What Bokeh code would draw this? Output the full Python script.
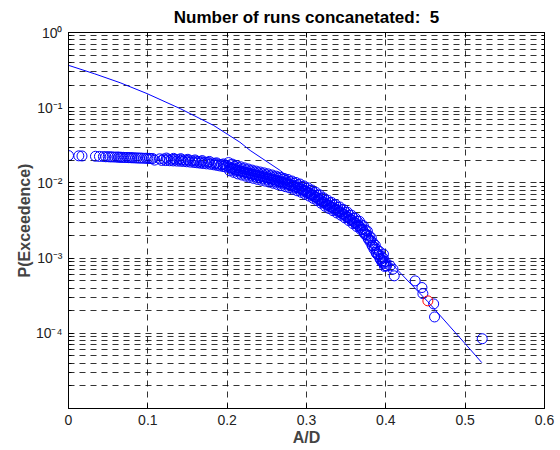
from bokeh.plotting import figure
from bokeh.models import FixedTicker, LinearAxis, LogAxis, Title
from bokeh.embed import file_html
from bokeh.resources import INLINE

# ---- data ----
title_text = "Number of runs concanetated:\u00a0 5"
x_label = "A/D"
y_label = "P(Exceedence)"

# empirical exceedance points (blue circles), read in segments
head_x = [
    0.000, 0.013, 0.017, 0.034, 0.039, 0.044, 0.050, 0.055, 0.061, 0.065,
    0.069, 0.074, 0.078, 0.082, 0.087, 0.092, 0.098, 0.102, 0.106, 0.115,
    0.120, 0.125, 0.130, 0.134, 0.139, 0.143, 0.147, 0.151, 0.156, 0.160,
    0.164, 0.168, 0.172, 0.176, 0.181, 0.185, 0.189, 0.193, 0.197, 0.200,
]
head_p = [
    0.0231, 0.0229, 0.0228, 0.0226, 0.0225, 0.0224, 0.0223, 0.0222, 0.0221, 0.0220,
    0.0219, 0.0218, 0.0217, 0.0216, 0.0215, 0.0214, 0.0213, 0.0212, 0.0211, 0.0209,
    0.0208, 0.0207, 0.0206, 0.0205, 0.0204, 0.0203, 0.0201, 0.0199, 0.0197, 0.0195,
    0.0193, 0.0191, 0.0189, 0.0187, 0.0184, 0.0181, 0.0178, 0.0175, 0.0172, 0.0169,
]
head2_x = [
    0.047, 0.0525, 0.058, 0.063, 0.067, 0.0715, 0.076, 0.080, 0.0845, 0.0895,
    0.095, 0.100, 0.104, 0.1085, 0.1175, 0.1225, 0.1275, 0.132, 0.1365, 0.141,
    0.145, 0.149, 0.1535, 0.158, 0.162, 0.166, 0.170, 0.174, 0.1785, 0.183,
    0.187, 0.191, 0.195, 0.1985,
]
head2_p = [
    0.02225, 0.02215, 0.02205, 0.02195, 0.02185, 0.02175, 0.02165, 0.02155, 0.02145, 0.02135,
    0.02125, 0.02115, 0.02105, 0.0201, 0.0199, 0.0198, 0.0197, 0.0196, 0.0195, 0.0194,
    0.0193, 0.0191, 0.0189, 0.0187, 0.0185, 0.0183, 0.0181, 0.0179, 0.0177, 0.0174,
    0.0171, 0.0168, 0.0165, 0.0162,
]
head3_x = [0.1235, 0.1325, 0.1415, 0.1505, 0.1595, 0.1685, 0.1775, 0.1865, 0.1955]
head3_p = [0.0214, 0.0212, 0.0210, 0.0206, 0.0202, 0.0198, 0.0193, 0.0185, 0.0179]

band_x = [
    0.205, 0.210, 0.215, 0.220, 0.225, 0.230, 0.235, 0.240, 0.245, 0.250,
    0.255, 0.260, 0.265, 0.270, 0.275, 0.280, 0.285, 0.290, 0.295, 0.300,
    0.305, 0.310, 0.315, 0.320, 0.325, 0.330, 0.335, 0.340, 0.345, 0.350,
    0.355, 0.360, 0.365, 0.370, 0.375, 0.380, 0.385, 0.390, 0.395, 0.400,
]
band_p = [
    0.01585, 0.0151, 0.0146, 0.0141, 0.01365, 0.0132, 0.0128, 0.01245, 0.0121, 0.01175,
    0.01135, 0.01096, 0.01059, 0.01023, 0.00989, 0.00944, 0.00902, 0.00861, 0.00813, 0.00767,
    0.00716, 0.00668, 0.00617, 0.00562, 0.00525, 0.0049, 0.00457, 0.00427, 0.00394, 0.00363,
    0.00331, 0.00302, 0.00275, 0.0024, 0.00204, 0.00166, 0.00132, 0.0011, 0.00089, 0.00079,
]
band2_x = [
    0.2025, 0.2075, 0.2125, 0.2175, 0.2225, 0.2275, 0.2325, 0.2375, 0.2425, 0.2475,
    0.2525, 0.2575, 0.2625, 0.2675, 0.2725, 0.2775, 0.2825, 0.2875, 0.2925, 0.2975,
    0.3025, 0.3075, 0.3125, 0.3175, 0.3225, 0.3275, 0.3325, 0.3375, 0.3425, 0.3475,
    0.3525, 0.3575, 0.3625, 0.3675, 0.3725, 0.3775, 0.3825, 0.3875, 0.3925, 0.3975,
]
band2_p = [
    0.01622, 0.01549, 0.01488, 0.01437, 0.01388, 0.01341, 0.01298, 0.01262, 0.01227, 0.01192,
    0.01155, 0.01115, 0.01078, 0.01041, 0.01006, 0.00966, 0.00923, 0.00881, 0.00837, 0.0079,
    0.00741, 0.00692, 0.00642, 0.00589, 0.00543, 0.00507, 0.00473, 0.00442, 0.0041, 0.00378,
    0.00347, 0.00316, 0.00288, 0.00257, 0.00221, 0.00184, 0.00148, 0.0012, 0.00099, 0.000841,
]
band_hi_x = [
    0.2017, 0.2067, 0.2117, 0.2167, 0.2217, 0.2267, 0.2317, 0.2367, 0.2417, 0.2467,
    0.2517, 0.2567, 0.2617, 0.2667, 0.2717, 0.2767, 0.2817, 0.2867, 0.2917, 0.2967,
    0.3017, 0.3067, 0.3117, 0.3167, 0.3217, 0.3267, 0.3317, 0.3367, 0.3417, 0.3467,
    0.3517, 0.3567, 0.3617, 0.3667, 0.3717, 0.3767, 0.3817, 0.3867, 0.3917, 0.3967,
]
band_hi_p = [
    0.01862, 0.01778, 0.01698, 0.01641, 0.01585, 0.01531, 0.01479, 0.01435, 0.01396, 0.01358,
    0.01318, 0.01274, 0.0123, 0.01189, 0.01148, 0.01109, 0.01059, 0.01012, 0.00966, 0.00912,
    0.00861, 0.00804, 0.0075, 0.00692, 0.00631, 0.00589, 0.0055, 0.00513, 0.00479, 0.00442,
    0.00407, 0.00372, 0.00339, 0.00309, 0.00269, 0.00229, 0.00186, 0.00148, 0.00123, 0.001,
]
band_hi2_x = [
    0.2042, 0.2092, 0.2142, 0.2192, 0.2242, 0.2292, 0.2342, 0.2392, 0.2442, 0.2492,
    0.2542, 0.2592, 0.2642, 0.2692, 0.2742, 0.2792, 0.2842, 0.2892, 0.2942, 0.2992,
    0.3042, 0.3092, 0.3142, 0.3192, 0.3242, 0.3292, 0.3342, 0.3392, 0.3442, 0.3492,
    0.3542, 0.3592, 0.3642, 0.3692, 0.3742, 0.3792, 0.3842, 0.3892, 0.3942, 0.3992,
]
band_hi2_p = [
    0.01739, 0.0166, 0.01595, 0.0154, 0.01488, 0.01438, 0.01391, 0.01353, 0.01315, 0.01278,
    0.01238, 0.01195, 0.01156, 0.01116, 0.01078, 0.01036, 0.00989, 0.00944, 0.00897, 0.00847,
    0.00794, 0.00742, 0.00688, 0.00631, 0.00582, 0.00544, 0.00507, 0.00474, 0.0044, 0.00405,
    0.00372, 0.00339, 0.00309, 0.00276, 0.00237, 0.00197, 0.00159, 0.00129, 0.00106, 0.000902,
]
band_lo_x = [
    0.2033, 0.2083, 0.2133, 0.2183, 0.2233, 0.2283, 0.2333, 0.2383, 0.2433, 0.2483,
    0.2533, 0.2583, 0.2633, 0.2683, 0.2733, 0.2783, 0.2833, 0.2883, 0.2933, 0.2983,
    0.3033, 0.3083, 0.3133, 0.3183, 0.3233, 0.3283, 0.3333, 0.3383, 0.3433, 0.3483,
    0.3533, 0.3583, 0.3633, 0.3683, 0.3733, 0.3783, 0.3833, 0.3883, 0.3933, 0.3983,
]
band_lo_p = [
    0.01445, 0.0138, 0.01318, 0.01274, 0.0123, 0.01189, 0.01148, 0.01114, 0.01084, 0.01054,
    0.01023, 0.00989, 0.00955, 0.00923, 0.00891, 0.00861, 0.00822, 0.00785, 0.0075, 0.00708,
    0.00668, 0.00624, 0.00582, 0.00537, 0.0049, 0.00457, 0.00427, 0.00398, 0.00372, 0.00343,
    0.00316, 0.00288, 0.00263, 0.0024, 0.00209, 0.00178, 0.00145, 0.00115, 0.000955, 0.000776,
]
band_lo2_x = [
    0.2058, 0.2108, 0.2158, 0.2208, 0.2258, 0.2308, 0.2358, 0.2408, 0.2458, 0.2508,
    0.2558, 0.2608, 0.2658, 0.2708, 0.2758, 0.2808, 0.2858, 0.2908, 0.2958, 0.3008,
    0.3058, 0.3108, 0.3158, 0.3208, 0.3258, 0.3308, 0.3358, 0.3408, 0.3458, 0.3508,
    0.3558, 0.3608, 0.3658, 0.3708, 0.3758, 0.3808, 0.3858, 0.3908, 0.3958, 0.4008,
]
band_lo2_p = [
    0.01513, 0.01445, 0.01388, 0.01341, 0.01295, 0.01251, 0.01211, 0.01177, 0.01145, 0.01112,
    0.01078, 0.0104, 0.01006, 0.00971, 0.00939, 0.00901, 0.00861, 0.00822, 0.00781, 0.00737,
    0.00691, 0.00646, 0.00599, 0.0055, 0.00507, 0.00473, 0.00441, 0.00412, 0.00383, 0.00353,
    0.00324, 0.00295, 0.00269, 0.0024, 0.00206, 0.00172, 0.00138, 0.00112, 0.000924, 0.000785,
]
tail_x = [0.397, 0.397, 0.4055, 0.409, 0.4106, 0.437, 0.4455, 0.4467, 0.4603, 0.4614, 0.5215]
tail_p = [0.00113, 0.000873, 0.000789, 0.000713, 0.000581, 0.000498, 0.000406, 0.000337,
          0.000246, 0.000165, 0.0000847]

# highlighted point (red circle)
red_x = [0.453]
red_p = [0.00027]

# fitted curve (blue line)
fit_x = [0.0, 0.033, 0.065, 0.099, 0.141, 0.183, 0.216, 0.229, 0.267, 0.286,
         0.315, 0.342, 0.370, 0.414, 0.453, 0.506, 0.521]
fit_p = [0.366, 0.282, 0.215, 0.154, 0.097, 0.058, 0.0348, 0.027, 0.0146, 0.0100,
         0.0063, 0.00407, 0.0024, 0.000708, 0.000263, 0.0000617, 0.0000407]

# axis ticks
x_ticks = [0, 0.1, 0.2, 0.3, 0.4, 0.5, 0.6]
x_tick_labels = ["0", "0.1", "0.2", "0.3", "0.4", "0.5", "0.6"]
y_ticks = [1e-4, 1e-3, 1e-2, 1e-1, 1e0]
y_tick_labels = ["10\u207b\u2074", "10\u207b\u00b3", "10\u207b\u00b2", "10\u207b\u00b9", "10\u2070"]
y_minor = [m * 10.0 ** e for e in range(-5, 0) for m in range(2, 10)]

FONT = "Liberation Sans"
BLUE = "#0000ff"
DASH = "6 5"

p = figure(frame_width=476, frame_height=376, x_range=(0, 0.6), y_range=(1e-5, 1),
           y_axis_type="log", output_backend="svg", toolbar_location=None,
           min_border_left=68, min_border_right=16, min_border_top=32, min_border_bottom=42,
           background_fill_color="white", border_fill_color="white")

p.outline_line_color = "black"
p.outline_line_width = 1

xt = FixedTicker(ticks=x_ticks, minor_ticks=[])
yt = FixedTicker(ticks=y_ticks, minor_ticks=y_minor)

# grids
p.xgrid.ticker = xt
p.ygrid.ticker = yt
for g in (p.xgrid, p.ygrid):
    g.grid_line_color = "black"
    g.grid_line_dash = DASH
    g.grid_line_alpha = 0.8
    g.grid_line_width = 1
p.ygrid.minor_grid_line_color = "black"
p.ygrid.minor_grid_line_dash = DASH
p.ygrid.minor_grid_line_alpha = 0.8


def style_axis(ax, labels=True):
    ax.axis_line_color = "black"
    ax.major_tick_in = 5
    ax.major_tick_out = 0
    ax.minor_tick_in = 3
    ax.minor_tick_out = 0
    ax.major_tick_line_color = "black"
    ax.minor_tick_line_color = "black"
    ax.major_label_text_font = FONT
    if labels:
        ax.major_label_text_font_size = "14px"
        ax.major_label_text_color = "#222222"
    else:
        ax.major_label_text_font_size = "1px"
        ax.major_label_text_color = None
        ax.major_label_standoff = 0


xa = p.xaxis[0]
xa.ticker = xt
style_axis(xa)
xa.major_label_overrides = {t: l for t, l in zip(x_ticks, x_tick_labels)}
xa.major_label_standoff = 6
xa.axis_label = x_label
xa.axis_label_text_font = FONT
xa.axis_label_text_font_style = "bold"
xa.axis_label_text_font_size = "16px"
xa.axis_label_standoff = 1
xa.minor_tick_line_color = None

ya = p.yaxis[0]
ya.ticker = yt
style_axis(ya)
ya.major_label_overrides = {t: l for t, l in zip(y_ticks, y_tick_labels)}
ya.major_label_standoff = 6
ya.axis_label = y_label
ya.axis_label_text_font = FONT
ya.axis_label_text_font_style = "bold"
ya.axis_label_text_font_size = "16px"
ya.axis_label_standoff = 0

top = LinearAxis(ticker=xt)
style_axis(top, labels=False)
top.minor_tick_line_color = None
right = LogAxis(ticker=yt)
style_axis(right, labels=False)
p.add_layout(top, "above")
p.add_layout(right, "right")

p.title = Title(text=title_text, align="center", text_font=FONT, text_font_style="bold",
                text_font_size="17px", text_color="black", standoff=11)

# marks
p.line(fit_x, fit_p, line_color=BLUE, line_width=1)
for xs, ps in ((head_x, head_p), (head2_x, head2_p), (head3_x, head3_p),
               (band_x, band_p), (band2_x, band2_p), (band_hi_x, band_hi_p),
               (band_hi2_x, band_hi2_p), (band_lo_x, band_lo_p), (band_lo2_x, band_lo2_p),
               (tail_x, tail_p)):
    p.scatter(xs, ps, marker="circle", size=10, fill_color=None, line_color=BLUE, line_width=1)
p.scatter(red_x, red_p, marker="circle", size=10, fill_color=None, line_color="red", line_width=1)

open("out.html", "w").write(file_html(p, INLINE))
